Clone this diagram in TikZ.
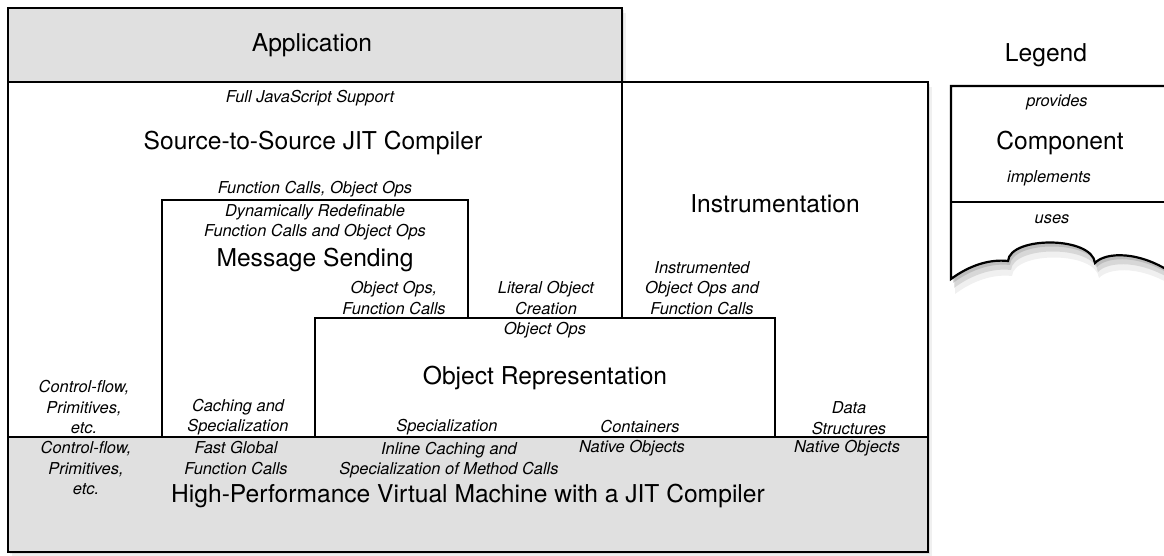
\documentclass[tikz,border=0pt]{standalone}
\usepackage{fontspec}
\setmainfont{TeX Gyre Heros}
\usetikzlibrary{shadows}
\definecolor{layergray}{RGB}{224,224,224}
\tikzstyle{layer} = [draw=black, line width=0.9pt, fill=white]
\tikzstyle{base} = [layer, fill=layergray]
\tikzstyle{shadowed} = [drop shadow={opacity=0.18, shadow xshift=1pt, shadow yshift=-1pt},
	drop shadow={opacity=0.12, shadow xshift=2pt, shadow yshift=-2.5pt}]
\tikzstyle{cloudshadow} = [drop shadow={opacity=0.3, shadow xshift=1pt, shadow yshift=-2pt},
	drop shadow={opacity=0.22, shadow xshift=1.5pt, shadow yshift=-4.5pt},
	drop shadow={opacity=0.12, shadow xshift=2pt, shadow yshift=-7.5pt}]
\tikzstyle{comp} = [font=\fontsize{12.3}{14}\selectfont, inner sep=0pt]
\tikzstyle{note} = [font=\fontsize{8.2}{10.2}\selectfont\itshape, align=center, inner sep=0pt]

\begin{document}
\begin{tikzpicture}[x=0.5pt, y=-0.5pt]
	\useasboundingbox (0,0) rectangle (1164,556);
	%各层的框
	\draw [base, shadowed] (8,8) rectangle (622,82);
	\draw [layer, shadowed] (8,82) rectangle (622,437);
	\draw [layer, shadowed] (622,82) rectangle (928,437);
	\draw [layer] (162,200) rectangle (468,437);
	\draw [layer] (315,318) rectangle (775,437);
	\draw [base, shadowed] (8,437) rectangle (928,552);
	%图例
	\draw [layer, line width=1.1pt, cloudshadow] (1175,86) -- (951,86) -- (951,279)
		.. controls (970,265) and (990,259) .. (1008,261)
		.. controls (1010,236) and (1092,236) .. (1095,263)
		.. controls (1105,252) and (1140,250) .. (1175,275);
	\draw [line width=0.9pt] (951,202) -- (1175,202);
	
	%各层的文字
	\node (app) [comp] at (312,45) {Application};
	\node (fulljs) [note] at (310,98) {Full JavaScript Support};
	\node (src) [comp] at (313,143) {Source-to-Source JIT Compiler};
	\node (srcuses) [note] at (315,189) {Function Calls, Object Ops};
	\node (msgprov) [note] at (315,222) {Dynamically Redefinable\\Function Calls and Object Ops};
	\node (msg) [comp] at (315,260) {Message Sending};
	\node (msguses) [note] at (394,298) {Object Ops,\\Function Calls};
	\node (literal) [note] at (546,298) {Literal Object\\Creation};
	\node (instruses) [note] at (702,288) {Instrumented\\Object Ops and\\Function Calls};
	\node (instr) [comp] at (775,204) {Instrumentation};
	\node (objprov) [note] at (545,330) {Object Ops};
	\node (obj) [comp] at (545,378) {Object Representation};
	\node (srcimpl) [note] at (84,407) {Control-flow,\\Primitives,\\etc.};
	\node (msgimpl) [note] at (238,417) {Caching and\\Specialization};
	\node (objimpl1) [note] at (447,427) {Specialization};
	\node (objimpl2) [note] at (640,427) {Containers};
	\node (instrimpl) [note] at (849,418) {Data\\Structures};
	\node (vmprim) [note] at (86,468) {Control-flow,\\Primitives,\\etc.};
	\node (vmcalls) [note] at (236,458) {Fast Global\\Function Calls};
	\node (vmcache) [note] at (449,460) {Inline Caching and\\Specialization of Method Calls};
	\node (vmnative1) [note] at (632,448) {Native Objects};
	\node (vmnative2) [note] at (847,448) {Native Objects};
	\node (vm) [comp] at (468,496) {High-Performance Virtual Machine with a JIT Compiler};
	
	%图例文字
	\node (legend) [comp] at (1046,55) {Legend};
	\node (lgprov) [note] at (1057,102) {provides};
	\node (lgcomp) [comp] at (1060,143) {Component};
	\node (lgimpl) [note] at (1049,178) {implements};
	\node (lguses) [note] at (1052,219) {uses};
\end{tikzpicture}
\end{document}
